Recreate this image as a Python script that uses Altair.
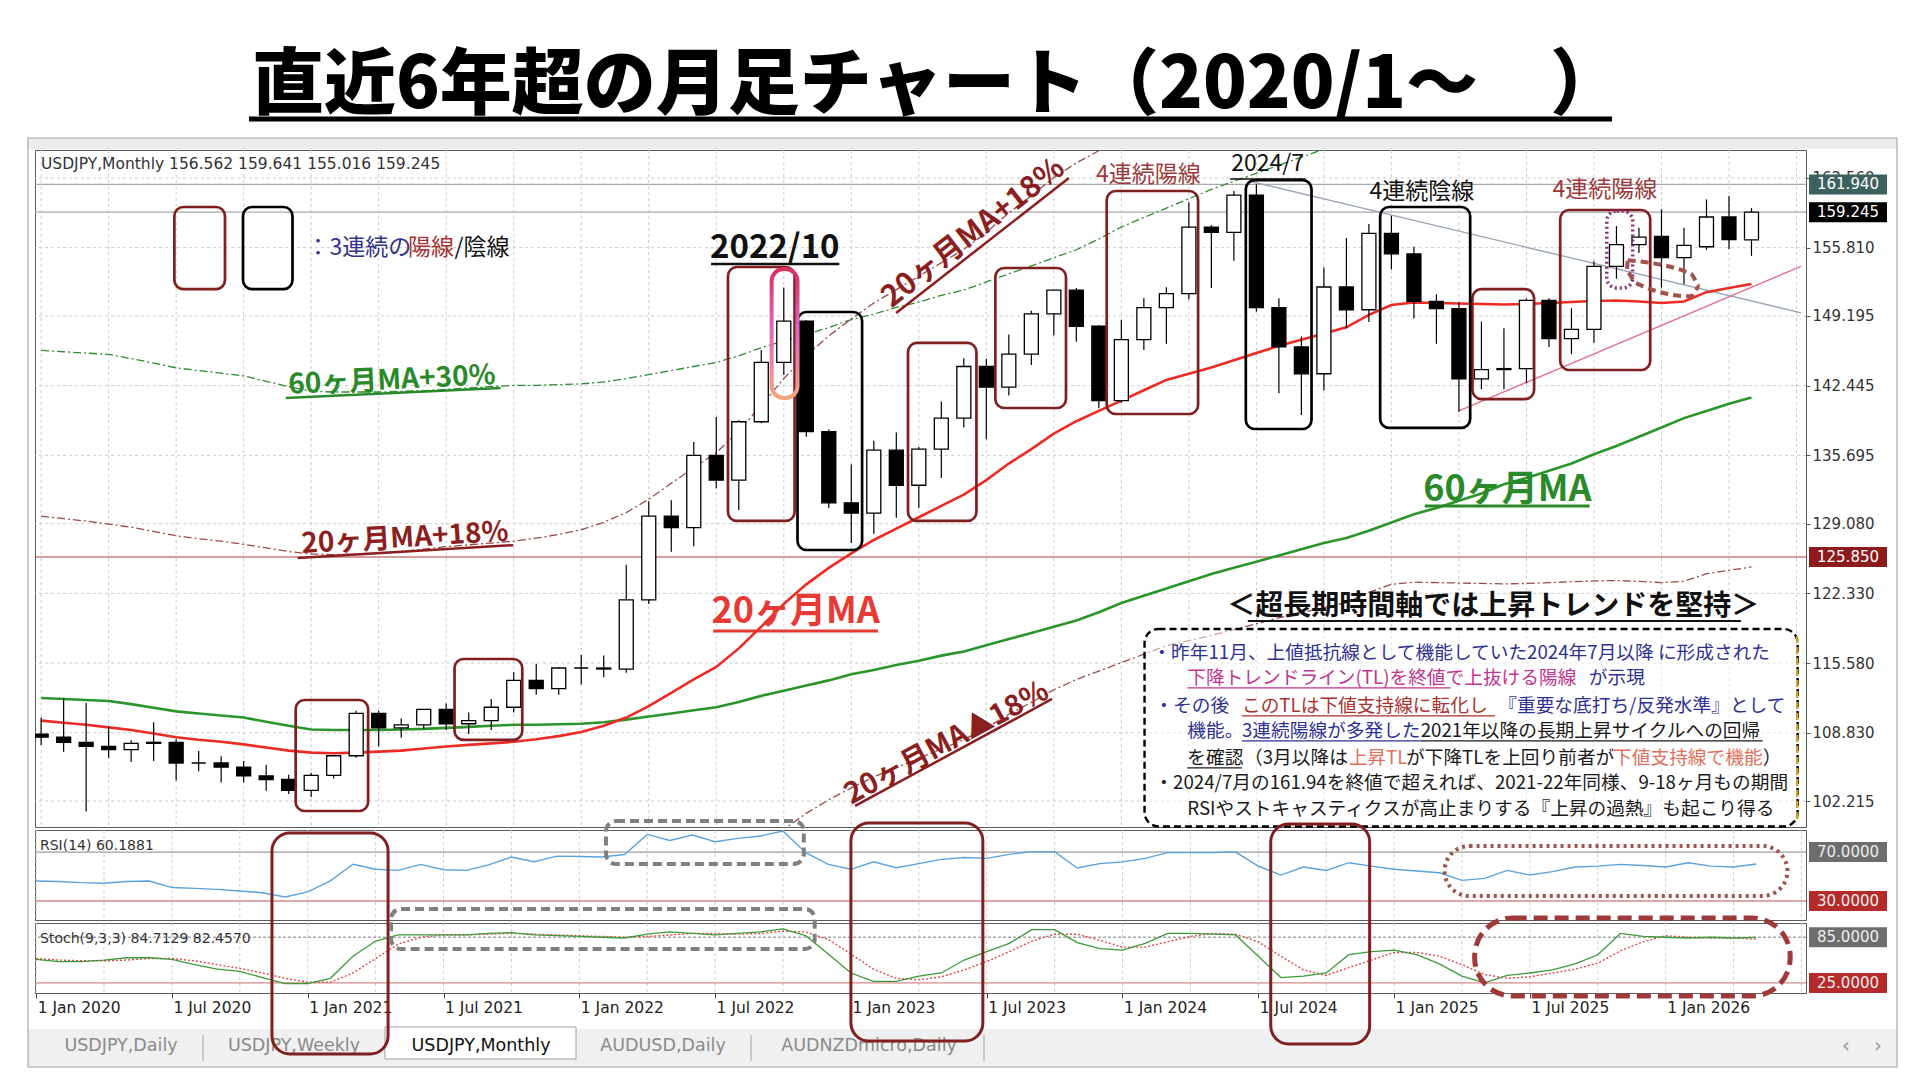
import json
import altair as alt
import pandas as pd

JP = "Noto Sans CJK JP"
NUM = "DejaVu Sans"

# ------------------------------------------------------------------ data
months = list(range(77))  # 0 = Jan 2020 ... 76 = May 2026
opens = [108.7, 108.4, 107.9, 107.5, 107.2, 107.8, 107.9, 105.9, 105.9, 105.5, 104.65, 104.3,
         103.25, 104.7, 106.6, 110.7, 109.3, 109.6, 111.1, 109.7, 110.0, 111.3, 113.9, 113.1,
         115.1, 115.1, 115.0, 121.7, 129.8, 128.7, 135.7, 133.3, 138.95, 144.7, 148.7, 138.0,
         131.1, 130.1, 136.2, 132.8, 136.3, 139.3, 144.3, 142.3, 145.5, 149.4, 151.7, 148.2,
         141.0, 146.9, 150.0, 151.35, 157.8, 157.3, 160.9, 150.0, 146.2, 143.6, 152.0, 149.8,
         157.2, 155.2, 150.6, 149.9, 143.1, 144.0, 144.1, 150.7, 147.0, 147.9, 154.0, 156.1,
         156.9, 154.84, 155.9, 158.78, 156.562]
highs = [110.3, 112.2, 111.7, 109.4, 108.1, 109.85, 108.2, 107.05, 106.55, 106.1, 105.7, 104.75,
         104.95, 106.7, 110.95, 110.95, 110.2, 111.1, 111.65, 110.8, 112.1, 114.7, 115.5, 115.2,
         116.35, 116.3, 125.1, 131.25, 131.35, 137.0, 139.4, 139.1, 145.9, 151.95, 148.8, 138.2,
         134.8, 137.1, 137.9, 136.5, 140.9, 145.1, 145.05, 147.4, 149.7, 151.7, 151.9, 148.3,
         148.8, 150.9, 151.97, 160.2, 157.99, 161.3, 161.95, 150.9, 147.2, 153.9, 156.75, 158.1,
         158.9, 155.9, 151.3, 150.5, 148.65, 148.0, 150.9, 150.9, 149.95, 154.5, 157.9, 157.74,
         159.53, 157.74, 160.49, 160.81, 159.641]
lows = [107.65, 107.0, 101.2, 106.4, 106.0, 106.1, 104.2, 105.1, 104.0, 104.0, 103.2, 102.9,
        102.6, 104.4, 106.4, 107.5, 108.35, 109.2, 109.1, 108.7, 109.1, 110.8, 112.5, 112.5,
        113.5, 114.2, 114.65, 121.3, 126.35, 126.9, 132.5, 130.4, 138.8, 143.5, 137.5, 130.6,
        127.2, 128.1, 129.65, 130.6, 133.5, 138.4, 137.25, 141.5, 144.45, 147.3, 146.7, 140.25,
        140.8, 145.9, 146.5, 150.8, 151.9, 154.55, 149.6, 141.7, 139.6, 142.0, 148.0, 148.6,
        153.7, 148.95, 146.5, 139.9, 142.1, 142.1, 142.7, 146.2, 145.5, 146.6, 152.8, 155.3,
        151.94, 152.26, 155.6, 155.65, 155.016]
closes = [108.4, 107.9, 107.5, 107.2, 107.8, 107.9, 105.9, 105.9, 105.5, 104.65, 104.3, 103.25,
          104.7, 106.6, 110.7, 109.3, 109.6, 111.1, 109.7, 110.0, 111.3, 113.9, 113.1, 115.1,
          115.1, 115.0, 121.7, 129.8, 128.7, 135.7, 133.3, 138.95, 144.7, 148.7, 138.0, 131.1,
          130.1, 136.2, 132.8, 136.3, 139.3, 144.3, 142.3, 145.5, 149.4, 151.7, 148.2, 141.0,
          146.9, 150.0, 151.35, 157.8, 157.3, 160.9, 150.0, 146.2, 143.6, 152.0, 149.8, 157.2,
          155.2, 150.6, 149.9, 143.1, 144.0, 144.1, 150.7, 147.0, 147.9, 154.0, 156.1, 156.84,
          154.84, 156.04, 158.78, 156.58, 159.245]
ma20 = [110.0, 109.8, 109.6, 109.35, 109.1, 108.75, 108.4, 108.15, 107.95, 107.7, 107.4, 107.1,
        106.9, 106.85, 106.9, 107.0, 107.1, 107.3, 107.5, 107.65, 107.8, 107.95, 108.2, 108.5,
        108.9, 109.5, 110.3, 111.4, 112.7, 114.0, 115.2, 117.0, 119.1, 121.3, 123.2, 124.8,
        126.2, 127.5, 128.6, 129.7, 130.8, 131.9, 133.3, 134.9, 136.3, 137.8, 139.0, 140.0,
        141.0, 142.0, 143.0, 143.6, 144.2, 144.9, 145.6, 146.3, 146.9, 147.5, 148.1, 149.3,
        150.25, 150.5, 150.45, 150.4, 150.35, 150.3, 150.35, 150.45, 150.55, 150.65, 150.7, 150.6,
        150.45, 150.6, 151.5, 151.9, 152.3]
ma60 = [112.2, 112.1, 112.0, 111.9, 111.6, 111.25, 110.9, 110.7, 110.5, 110.3, 109.9, 109.5,
        109.15, 109.1, 109.1, 109.1, 109.15, 109.2, 109.3, 109.4, 109.5, 109.6, 109.6, 109.65,
        109.7, 109.85, 110.1, 110.4, 110.7, 111.0, 111.3, 111.8, 112.4, 112.9, 113.4, 113.9,
        114.5, 114.9, 115.4, 115.8, 116.3, 116.7, 117.3, 117.9, 118.5, 119.1, 119.7, 120.5,
        121.4, 122.1, 122.8, 123.5, 124.2, 124.8, 125.4, 126.0, 126.6, 127.2, 127.7, 128.4,
        129.2, 130.0, 130.6, 131.3, 132.0, 132.9, 133.5, 134.2, 134.9, 135.8, 136.6, 137.5,
        138.4, 139.3, 140.0, 140.7, 141.3]
rsi14 = [46.3, 46.0, 45.0, 44.5, 46.0, 46.3, 41.0, 40.3, 39.5, 38.2, 36.8, 33.3,
         37.5, 46.5, 60.0, 55.9, 55.0, 59.9, 55.5, 55.0, 59.5, 65.9, 62.1, 66.7,
         66.3, 66.0, 68.0, 84.4, 79.5, 83.9, 78.4, 81.2, 83.1, 87.1, 69.5, 59.9,
         55.9, 62.1, 57.2, 60.5, 64.0, 65.5, 64.8, 68.1, 70.3, 70.3, 57.0, 60.5,
         62.0, 64.8, 69.5, 69.5, 69.5, 70.0, 58.6, 51.2, 57.8, 55.0, 61.3, 58.5,
         56.0, 54.5, 53.1, 46.9, 48.5, 55.0, 51.2, 54.0, 57.8, 58.5, 59.9, 59.0,
         57.8, 61.3, 58.5, 57.8, 60.19]
stoch_k = [56, 53, 53, 55, 58, 58, 56, 49, 43, 40, 32, 24,
           24, 31, 60, 80, 88, 88, 88, 88, 90, 91, 88, 87,
           86, 85, 84, 89, 92, 90, 88, 90, 92, 96, 87, 63,
           38, 27, 27, 34, 38, 55, 66, 77, 95, 95, 78, 70,
           68, 77, 90, 90, 89, 88, 60, 32, 34, 38, 62, 66,
           68, 62, 50, 34, 25, 35, 38, 42, 50, 62, 90, 86,
           85, 84, 85, 84, 84.71]
stoch_d = [57, 55, 54, 54, 55, 57, 57, 54, 49, 44, 38, 31,
           26, 26, 38, 57, 76, 85, 88, 88, 89, 90, 89, 88,
           87, 86, 85, 86, 88, 90, 90, 89, 90, 93, 92, 82,
           63, 43, 31, 29, 33, 42, 53, 66, 80, 89, 89, 81,
           72, 72, 79, 86, 90, 89, 79, 60, 42, 35, 45, 55,
           65, 65, 60, 49, 36, 31, 33, 38, 43, 51, 67, 79,
           87, 85, 84, 84, 82.46]

date_label_months = [0, 6, 12, 18, 24, 30, 36, 42, 48, 54, 60, 66, 72]
date_labels = ["1 Jan 2020", "1 Jul 2020", "1 Jan 2021", "1 Jul 2021", "1 Jan 2022",
               "1 Jul 2022", "1 Jan 2023", "1 Jul 2023", "1 Jan 2024", "1 Jul 2024",
               "1 Jan 2025", "1 Jul 2025", "1 Jan 2026"]
price_ticks = [102.215, 108.830, 115.580, 122.330, 129.080, 135.695, 142.445, 149.195, 155.810, 162.560]
grid_months = list(range(0, 79, 3))
hline_levels = [161.94, 159.245, 125.85]
hline_colors = ["#a9a9a9", "#a9a9a9", "#b03a3a"]
tag_levels = [161.94, 159.245, 125.85]
tag_texts = ["161.940", "159.245", "125.850"]
tag_colors = ["#3d625d", "#000000", "#8e1b1b"]

# ------------------------------------------------------------------ frames
df = pd.DataFrame({"m": months, "open": opens, "high": highs, "low": lows, "close": closes,
                   "ma20": ma20, "ma60": ma60, "rsi": rsi14, "k": stoch_k, "d": stoch_d})
df["fill"] = ["white" if c >= o else "black" for o, c in zip(opens, closes)]
df["ma20_hi"] = df["ma20"] * 1.18
df["ma20_lo"] = df["ma20"] * 0.82
df["ma60_hi"] = df["ma60"] * 1.30

W = 1771
H_MAIN, H_RSI, H_STO = 677, 90, 70
ONE = pd.DataFrame({"k": [0]})

xs = alt.Scale(domain=[-0.05, 78.2], nice=False, zero=False)


def XM(f):
    return alt.X(f, type="quantitative", scale=xs, axis=None)


ym_scale = alt.Scale(domain=[99.70, 165.27], nice=False, zero=False)
ym_axis = alt.Axis(orient="right", values=price_ticks, format=".3f", grid=False, domain=False,
                   tickSize=4, tickColor="#555555", labelColor="#333333", labelFont=NUM,
                   labelFontSize=15, labelPadding=2, labelFlush=False, labelOverlap=False, title=None)


def YM(f):
    return alt.Y(f, type="quantitative", scale=ym_scale, axis=ym_axis)


def px_rect(x1, x2, y1, y2, **kw):
    return alt.Chart(ONE).mark_rect(**kw).encode(
        x=alt.value(x1), x2=alt.value(x2), y=alt.value(y1), y2=alt.value(y2))


def px_rule(x1, x2, y1, y2, **kw):
    return alt.Chart(ONE).mark_rule(**kw).encode(
        x=alt.value(x1), x2=alt.value(x2), y=alt.value(y1), y2=alt.value(y2))


def px_text(x, y, t, **kw):
    return alt.Chart(ONE).mark_text(text=t, **kw).encode(x=alt.value(x), y=alt.value(y))


# ------------------------------------------------------------------ main panel
L = []
L.append(px_rect(-26, -25, -141, -140, fill="white"))
L.append(px_rect(-7, 1862, -12, -1, fill="#ececec"))
L.append(px_text(902, -64, "直近6年超の月足チャート（2020/1～　）", font=JP, fontSize=72,
                 fontWeight=900, color="black", align="center", baseline="middle"))
L.append(px_rule(214, 1577, -31, -31, color="black", strokeWidth=5))

L.append(alt.Chart(pd.DataFrame({"g": grid_months})).mark_rule(
    color="#cdcdcd", strokeDash=[3, 3], strokeWidth=1).encode(x=XM("g")))
L.append(alt.Chart(pd.DataFrame({"v": price_ticks})).mark_rule(
    color="#cdcdcd", strokeDash=[3, 3], strokeWidth=1).encode(y=YM("v")))
L.append(alt.Chart(pd.DataFrame({"v": hline_levels, "c": hline_colors})).mark_rule(
    strokeWidth=1.2).encode(y=YM("v"), color=alt.Color("c:N", scale=None)))

for col, colr in [("ma60_hi", "#2e8b2e"), ("ma20_hi", "#9b4a4a"), ("ma20_lo", "#9b4a4a")]:
    L.append(alt.Chart(df).mark_line(color=colr, strokeDash=[8, 3, 2, 3], strokeWidth=1.3,
                                     clip=True).encode(x=XM("m"), y=YM(col)))

tl = pd.DataFrame({"tl": ["dn", "dn", "up", "up"], "m": [53.8, 78.2, 63.0, 78.2],
                   "p": [162.2, 149.5, 140.0, 154.0],
                   "c": ["#9aa6b8", "#9aa6b8", "#e0708a", "#e0708a"]})
L.append(alt.Chart(tl).mark_line(strokeWidth=1.4, clip=True).encode(
    x=XM("m"), y=YM("p"), detail="tl:N", color=alt.Color("c:N", scale=None)))

L.append(alt.Chart(df).mark_line(color="#2a952a", strokeWidth=2.6, clip=True).encode(x=XM("m"), y=YM("ma60")))
L.append(alt.Chart(df).mark_line(color="#ee2a24", strokeWidth=2.6, clip=True).encode(x=XM("m"), y=YM("ma20")))

L.append(alt.Chart(df).mark_rule(color="black", strokeWidth=1.2, clip=True).encode(
    x=XM("m"), y=YM("low"), y2=alt.Y2("high")))
L.append(alt.Chart(df).mark_bar(size=14, stroke="black", strokeWidth=1.3, clip=True).encode(
    x=XM("m"), y=YM("open"), y2=alt.Y2("close"), fill=alt.Fill("fill:N", scale=None)))

# commentary box
L.append(alt.Chart(pd.DataFrame({"m1": [49.03], "m2": [78.05], "p1": [118.88], "p2": [99.75]})).mark_rect(
    fill="white", fillOpacity=0.5, stroke="black", strokeDash=[7, 4], strokeWidth=2.4, cornerRadius=14
).encode(x=XM("m1"), x2=alt.X2("m2"), y=YM("p1"), y2=alt.Y2("p2")))
L.append(alt.Chart(pd.DataFrame({"m1": [78.03], "p1": [118.2], "p2": [100.3]})).mark_rule(
    color="#c9a227", strokeDash=[7, 4], strokeWidth=2.4).encode(x=XM("m1"), y=YM("p1"), y2=alt.Y2("p2")))

maroon_boxes = pd.DataFrame({
    "m1": [11.31, 18.37, 30.52, 38.52, 42.4, 47.35, 63.6, 67.5, 5.92],
    "m2": [14.53, 21.38, 33.48, 41.56, 45.54, 51.41, 66.34, 71.5, 8.17],
    "p1": [112.0, 115.97, 153.94, 146.58, 153.84, 161.3, 151.8, 159.46, 159.75],
    "p2": [101.25, 108.13, 129.34, 129.34, 140.28, 139.7, 141.15, 143.96, 151.8]})
black_boxes = pd.DataFrame({
    "m1": [33.61, 53.53, 59.5, 8.97], "m2": [36.48, 56.45, 63.5, 11.17],
    "p1": [149.58, 162.36, 159.75, 159.75], "p2": [126.53, 138.25, 138.35, 151.8]})
for bdf, colr in [(maroon_boxes, "#7f1f1f"), (black_boxes, "#000000")]:
    L.append(alt.Chart(bdf).mark_rect(filled=False, stroke=colr, strokeWidth=2.7, cornerRadius=9).encode(
        x=XM("m1"), x2=alt.X2("m2"), y=YM("p1"), y2=alt.Y2("p2")))

grad = alt.LinearGradient(gradient="linear", stops=[
    alt.GradientStop(color="#d6305e", offset=0), alt.GradientStop(color="#e064c8", offset=0.45),
    alt.GradientStop(color="#f4a47a", offset=1)], x1=0, x2=0, y1=0, y2=1)
L.append(alt.Chart(pd.DataFrame({"m1": [32.46], "m2": [33.61], "p1": [153.74], "p2": [141.25]})).mark_rect(
    filled=False, stroke=grad, strokeWidth=4, cornerRadius=12).encode(
    x=XM("m1"), x2=alt.X2("m2"), y=YM("p1"), y2=alt.Y2("p2")))
L.append(alt.Chart(pd.DataFrame({"m1": [69.57], "m2": [70.72], "p1": [159.36], "p2": [151.9]})).mark_rect(
    filled=False, stroke="#8b2d7a", strokeWidth=3.5, strokeDash=[2, 3], cornerRadius=10).encode(
    x=XM("m1"), x2=alt.X2("m2"), y=YM("p1"), y2=alt.Y2("p2")))
poly = pd.DataFrame({"o": list(range(7)),
                     "m": [70.5, 73.3, 73.7, 73.3, 70.85, 70.45, 70.5],
                     "p": [154.6, 153.3, 152.1, 151.1, 152.4, 153.5, 154.6]})
L.append(alt.Chart(poly).mark_line(color="#a0524d", strokeWidth=4, strokeDash=[8, 5],
                                   interpolate="monotone").encode(x=XM("m"), y=YM("p"), order="o:Q"))

bold_texts = pd.DataFrame([
    dict(t="2022/10", m=32.6, p=155.77, c="#111111", s=33, a=0),
    dict(t="20ヶ月MA+18%", m=41.43, p=157.23, c="#8b1e1e", s=30, a=322),
    dict(t="60ヶ月MA+30%", m=15.59, p=142.9, c="#2a8a2a", s=28, a=357.3),
    dict(t="20ヶ月MA+18%", m=16.17, p=127.6, c="#8b1e1e", s=28, a=356.6),
    dict(t="20ヶ月MA", m=33.53, p=120.52, c="#e83a34", s=36, a=0),
    dict(t="60ヶ月MA", m=65.15, p=132.34, c="#2a8a2a", s=36, a=0),
    dict(t="20ヶ月MA▲18%", m=40.24, p=107.85, c="#8b1e1e", s=29, a=331.6),
    dict(t="＜超長期時間軸では上昇トレンドを堅持＞", m=64.53, p=121.0, c="#111111", s=28, a=0),
])
L.append(alt.Chart(bold_texts).mark_text(font=JP, fontWeight="bold", align="center", baseline="middle").encode(
    x=XM("m"), y=YM("p"), text="t:N", color=alt.Color("c:N", scale=None),
    size=alt.Size("s:Q", scale=None), angle=alt.Angle("a:Q", scale=None)))

plain_texts = pd.DataFrame([
    dict(t="4連続陽線", m=49.2, p=162.87, c="#9b3a3a"),
    dict(t="2024/7", m=54.5, p=163.91, c="#111111"),
    dict(t="4連続陰線", m=61.35, p=161.2, c="#111111"),
    dict(t="4連続陽線", m=69.48, p=161.4, c="#9b3a3a"),
])
L.append(alt.Chart(plain_texts).mark_text(font=JP, fontSize=23, align="center", baseline="middle").encode(
    x=XM("m"), y=YM("p"), text="t:N", color=alt.Color("c:N", scale=None)))

legend_texts = pd.DataFrame([
    dict(t="：3連続の", m=11.79, p=155.77, c="#33338a"),
    dict(t="陽線", m=16.3, p=155.77, c="#a83232"),
    dict(t="/陰線", m=18.37, p=155.77, c="#111111"),
])
L.append(alt.Chart(legend_texts).mark_text(font=JP, fontSize=23, align="left", baseline="middle").encode(
    x=XM("m"), y=YM("p"), text="t:N", color=alt.Color("c:N", scale=None)))

NAVY, MAG, MRED, SAL, BLK = "#2e3192", "#c2358e", "#a8322d", "#e0705a", "#1a1a1a"
box_texts = pd.DataFrame([
    dict(t="・昨年11月、上値抵抗線として機能していた2024年7月以降 に形成された", m=49.38, p=116.55, c=NAVY),
    dict(t="下降トレンドライン(TL)を終値で上抜ける陽線", m=50.93, p=114.13, c=MAG),
    dict(t="が示現", m=68.77, p=114.13, c=NAVY),
    dict(t="・その後", m=49.47, p=111.42, c=NAVY),
    dict(t="このTLは下値支持線に転化し", m=53.36, p=111.42, c=MRED),
    dict(t="『重要な底打ち/反発水準』として", m=64.75, p=111.42, c=NAVY),
    dict(t="機能。", m=50.93, p=109.0, c=NAVY),
    dict(t="3連続陽線が多発した", m=53.36, p=109.0, c=NAVY),
    dict(t="2021年以降の長期上昇サイクルへの回帰", m=61.3, p=109.0, c=BLK),
    dict(t="を確認", m=50.93, p=106.38, c=BLK),
    dict(t="（3月以降は", m=53.45, p=106.38, c=BLK),
    dict(t="上昇TL", m=58.1, p=106.38, c=SAL),
    dict(t="が下降TLを上回り前者が", m=60.65, p=106.38, c=BLK),
    dict(t="下値支持線で機能", m=69.85, p=106.38, c=SAL),
    dict(t="）", m=76.5, p=106.38, c=BLK),
    dict(t="・2024/7月の161.94を終値で超えれば、2021-22年同様、9-18ヶ月もの期間", m=49.47, p=103.96, c=BLK),
    dict(t="RSIやストキャスティクスが高止まりする『上昇の過熱』も起こり得る", m=50.93, p=101.44, c=BLK),
])
L.append(alt.Chart(box_texts).mark_text(font=JP, fontSize=18.7, align="left", baseline="middle").encode(
    x=XM("m"), y=YM("p"), text="t:N", color=alt.Color("c:N", scale=None)))

underlines = pd.DataFrame([
    dict(m1=29.77, m2=35.47, p1=154.23, p2=154.23, c="#111111", w=2.5),
    dict(m1=37.99, m2=45.67, p1=149.48, p2=162.56, c="#8b1e1e", w=2.5),
    dict(m1=10.87, m2=20.41, p1=141.25, p2=142.22, c="#2a8a2a", w=2.5),
    dict(m1=11.4, m2=20.98, p1=125.75, p2=127.0, c="#8b1e1e", w=2.5),
    dict(m1=29.86, m2=37.19, p1=118.68, p2=118.68, c="#e83a34", w=3),
    dict(m1=61.48, m2=68.81, p1=130.8, p2=130.8, c="#2a8a2a", w=3),
    dict(m1=36.17, m2=44.92, p1=101.74, p2=112.1, c="#8b1e1e", w=2.5),
    dict(m1=53.62, m2=75.53, p1=119.65, p2=119.65, c="#111111", w=2),
    dict(m1=52.83, m2=56.18, p1=162.46, p2=162.46, c="#111111", w=1.5),
    dict(m1=50.93, m2=62.63, p1=113.17, p2=113.17, c=MAG, w=1.3),
    dict(m1=53.36, m2=64.6, p1=110.46, p2=110.46, c=MRED, w=1.3),
    dict(m1=53.36, m2=61.3, p1=108.04, p2=108.04, c=NAVY, w=1.3),
    dict(m1=61.3, m2=76.5, p1=108.04, p2=108.04, c=BLK, w=1.3),
    dict(m1=50.93, m2=53.36, p1=105.42, p2=105.42, c=BLK, w=1.3),
])
L.append(alt.Chart(underlines).mark_rule().encode(
    x=XM("m1"), x2=alt.X2("m2"), y=YM("p1"), y2=alt.Y2("p2"),
    color=alt.Color("c:N", scale=None), strokeWidth=alt.StrokeWidth("w:Q", scale=None)))

L.append(px_text(6, 14, "USDJPY,Monthly  156.562 159.641 155.016 159.245", font=NUM, fontSize=15.5,
                 color="#333333", align="left", baseline="middle"))

tags = pd.DataFrame({"v": tag_levels, "t": tag_texts, "c": tag_colors})
L.append(alt.Chart(tags).mark_rect(yOffset=-10, y2Offset=10).encode(
    x=alt.value(1774), x2=alt.value(1852), y=YM("v"), y2=alt.Y2("v"), fill=alt.Fill("c:N", scale=None)))
L.append(alt.Chart(tags).mark_text(font=NUM, fontSize=15, color="white", align="center",
                                   baseline="middle").encode(x=alt.value(1813), y=YM("v"), text="t:N"))

main = alt.layer(*L).properties(width=W, height=H_MAIN)

# ------------------------------------------------------------------ RSI panel
yr = alt.Scale(domain=[14.5, 88], nice=False, zero=False)


def YR(f):
    return alt.Y(f, type="quantitative", scale=yr, axis=None)


R = []
R.append(alt.Chart(pd.DataFrame({"g": grid_months})).mark_rule(
    color="#cdcdcd", strokeDash=[3, 3], strokeWidth=1).encode(x=XM("g")))
R.append(alt.Chart(pd.DataFrame({"v": [70, 30], "c": ["#9e9e9e", "#d48a8a"]})).mark_rule(
    strokeWidth=1.3).encode(y=YR("v"), color=alt.Color("c:N", scale=None)))
R.append(alt.Chart(df).mark_line(color="#5ba3dc", strokeWidth=1.4).encode(x=XM("m"), y=YR("rsi")))
R.append(px_text(5, 16, "RSI(14) 60.1881", font=NUM, fontSize=14, color="#333333", align="left",
                 baseline="middle"))
rtags = pd.DataFrame({"v": [70, 30], "t": ["70.0000", "30.0000"], "c": ["#6d6d6d", "#b52a2a"]})
R.append(alt.Chart(rtags).mark_rect(yOffset=-10, y2Offset=10).encode(
    x=alt.value(1774), x2=alt.value(1852), y=YR("v"), y2=alt.Y2("v"), fill=alt.Fill("c:N", scale=None)))
R.append(alt.Chart(rtags).mark_text(font=NUM, fontSize=15, color="#eeeeee", align="center",
                                    baseline="middle").encode(x=alt.value(1813), y=YR("v"), text="t:N"))
rsi_chart = alt.layer(*R).properties(width=W, height=H_RSI)

# ------------------------------------------------------------------ Stoch panel
yst = alt.Scale(domain=[11.7, 103.7], nice=False, zero=False)
label_expr = json.dumps(date_labels) + "[round(datum.value/6)]"
xaxis_sto = alt.Axis(values=date_label_months, labelExpr=label_expr, labelAlign="left", labelFlush=False,
                     labelOverlap=False, labelFont=NUM, labelFontSize=15.5, labelColor="#222222",
                     tickSize=5, tickColor="#444444", domain=False, grid=False, title=None,
                     labelPadding=2, labelOffset=1)


def XS(f):
    return alt.X(f, type="quantitative", scale=xs, axis=xaxis_sto)


def YS(f):
    return alt.Y(f, type="quantitative", scale=yst, axis=None)


S = []
S.append(alt.Chart(pd.DataFrame({"g": grid_months})).mark_rule(
    color="#cdcdcd", strokeDash=[3, 3], strokeWidth=1).encode(x=XS("g")))
S.append(alt.Chart(pd.DataFrame({"v": [85]})).mark_rule(color="#a8a8a8", strokeDash=[3, 2],
                                                        strokeWidth=1.3).encode(y=YS("v")))
S.append(alt.Chart(pd.DataFrame({"v": [25]})).mark_rule(color="#d48a8a", strokeWidth=1.3).encode(y=YS("v")))
S.append(alt.Chart(df).mark_line(color="#e04848", strokeDash=[2, 2], strokeWidth=1.4).encode(
    x=XS("m"), y=YS("d")))
S.append(alt.Chart(df).mark_line(color="#3c9a3c", strokeWidth=1.3).encode(x=XS("m"), y=YS("k")))
S.append(px_text(5, 16, "Stoch(9,3,3) 84.7129 82.4570", font=NUM, fontSize=14, color="#333333",
                 align="left", baseline="middle"))
stags = pd.DataFrame({"v": [85, 25], "t": ["85.0000", "25.0000"], "c": ["#6d6d6d", "#b52a2a"]})
S.append(alt.Chart(stags).mark_rect(yOffset=-10, y2Offset=10).encode(
    x=alt.value(1774), x2=alt.value(1852), y=YS("v"), y2=alt.Y2("v"), fill=alt.Fill("c:N", scale=None)))
S.append(alt.Chart(stags).mark_text(font=NUM, fontSize=15, color="#eeeeee", align="center",
                                    baseline="middle").encode(x=alt.value(1813), y=YS("v"), text="t:N"))

# window chrome: tab strip and outer frame
S.append(px_rect(-7, 1862, 106, 144, fill="#f0f0f0"))
S.append(px_rect(350, 541, 104, 136, fill="white", stroke="#a0a0a0", strokeWidth=1))
for tx, tt, tc in [(86, "USDJPY,Daily", "#8a8a8a"), (259, "USDJPY,Weekly", "#8a8a8a"),
                   (446, "USDJPY,Monthly", "#111111"), (628, "AUDUSD,Daily", "#8a8a8a"),
                   (834, "AUDNZDmicro,Daily", "#8a8a8a")]:
    S.append(px_text(tx, 123, tt, font=NUM, fontSize=17.5, color=tc, align="center", baseline="middle"))
for sx in [168, 716, 949]:
    S.append(px_rule(sx, sx, 112, 138, color="#a0a0a0", strokeWidth=1))
S.append(px_text(1811, 123, "‹", font=NUM, fontSize=20, color="#9a9a9a", align="center", baseline="middle"))
S.append(px_text(1843, 123, "›", font=NUM, fontSize=20, color="#9a9a9a", align="center", baseline="middle"))
S.append(px_rect(-7, 1862, -785, 144, filled=False, stroke="#a8a8a8", strokeWidth=1.2))

# annotation frames spanning the indicator windows (pixel rows relative to this panel)
cross = [
    (10.42, 15.55, -90, 131, "#7f1f1f", 3, None, 18),
    (36.0, 41.83, -100, 118, "#7f1f1f", 3, None, 18),
    (54.55, 58.92, -99, 121, "#7f1f1f", 3, None, 18),
    (25.18, 33.92, -102, -59, "#808080", 4, [9, 5], 10),
    (15.68, 34.4, -14, 26, "#808080", 4, [9, 5], 10),
    (62.23, 77.38, -77, -27, "#a0524d", 4, [3, 4], 25),
    (63.56, 77.5, -5, 73, "#a03a3a", 5, [14, 7], 38),
]
for m1, m2, y1, y2, colr, sw, dash, rad in cross:
    kw = dict(filled=False, stroke=colr, strokeWidth=sw, cornerRadius=rad)
    if dash:
        kw["strokeDash"] = dash
    S.append(alt.Chart(pd.DataFrame({"m1": [m1], "m2": [m2]})).mark_rect(**kw).encode(
        x=XS("m1"), x2=alt.X2("m2"), y=alt.value(y1), y2=alt.value(y2)))

sto_chart = alt.layer(*S).properties(width=W, height=H_STO)

chart = alt.vconcat(main, rsi_chart, sto_chart, spacing=3, bounds="flush").properties(
    padding={"left": 0, "top": 0, "right": 0, "bottom": 0}, background="white"
).configure_view(stroke="#5c5c5c", strokeWidth=1)

chart.save("out.html", embed_options={"renderer": "svg", "actions": False})
